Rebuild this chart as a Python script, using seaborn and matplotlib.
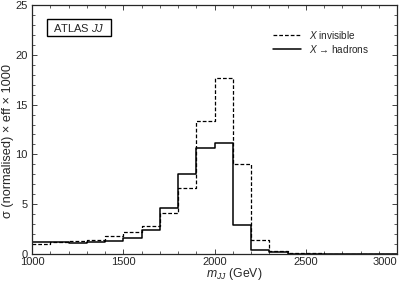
import pandas as pd
import matplotlib.pyplot as plt
import seaborn as sns
from matplotlib.patches import Rectangle
from matplotlib.ticker import MultipleLocator

sns.set_style("ticks")
plt.rcParams['font.family'] = ['Liberation Sans', 'DejaVu Sans']
plt.rcParams['mathtext.fontset'] = 'custom'
plt.rcParams['mathtext.it'] = 'Liberation Sans:italic'
plt.rcParams['mathtext.rm'] = 'Liberation Sans'

# bin edges in m_JJ (GeV)
edges = list(range(1000, 3001, 100))
centres = [e + 50 for e in edges[:-1]]
xticks = [1000, 1500, 2000, 2500, 3000]

# X invisible (dashed)
invisible = [1.04, 1.17, 1.30, 1.44, 1.80, 2.20, 2.85, 4.10, 6.60, 13.4,
             17.7, 9.0, 1.44, 0.30, 0.10, 0.05, 0.0, 0.0, 0.0, 0.0]
# X -> hadrons (solid)
hadrons = [1.17, 1.24, 1.07, 1.20, 1.30, 1.60, 2.44, 4.60, 8.00, 10.6,
           11.1, 2.9, 0.43, 0.15, 0.03, 0.0, 0.0, 0.0, 0.0, 0.0]

df = pd.DataFrame({"m": centres, "inv": invisible, "had": hadrons})

dash = (0, (3, 1.6))

fig = plt.figure(figsize=(4, 2.84), dpi=100)
ax = fig.add_axes([0.08, 0.106, 0.9125, 0.876])

sns.histplot(data=df, x="m", weights="inv", bins=edges, element="step",
             fill=False, color="black", linestyle=dash, linewidth=0.9, ax=ax)
sns.histplot(data=df, x="m", weights="had", bins=edges, element="step",
             fill=False, color="black", linewidth=1.1, ax=ax)

ax.set_xlim(1000, 3000)
ax.set_ylim(0, 25)
ax.set_xticks(xticks)
ax.xaxis.set_minor_locator(MultipleLocator(100))
ax.yaxis.set_major_locator(MultipleLocator(5))
ax.yaxis.set_minor_locator(MultipleLocator(1))
ax.tick_params(which='both', direction='in', top=True, right=True,
               labelsize=8, color="#444444")
ax.tick_params(axis='x', pad=2)
ax.tick_params(axis='y', pad=3)
ax.tick_params(which='major', length=3.6, width=0.7)
ax.tick_params(which='minor', length=2.2, width=0.6)
for s in ax.spines.values():
    s.set_linewidth(0.9)

# last x tick label sits inside the figure edge, as in the original
ax.xaxis.get_major_ticks()[-1].label1.set_horizontalalignment("right")

ax.set_xlabel(r"$m_{JJ}$ (GeV)", fontsize=8.8)
ax.set_ylabel("\u03c3 (normalised) \u00d7 eff \u00d7 1000", fontsize=9.2)
ax.xaxis.set_label_coords(0.555, -0.05)
ax.yaxis.set_label_coords(-0.05, 0.455)

# legend drawn by hand like the original
ax.plot([2321, 2474], [22.0, 22.0], color="black", linestyle=dash, linewidth=0.9)
ax.plot([2321, 2474], [20.6, 20.6], color="black", linewidth=1.1)
ax.text(2518, 22.0, r"$X$ invisible", fontsize=7.2, va="center")
ax.text(2518, 20.6, "$X$ \u2192 hadrons", fontsize=7.2, va="center")

# ATLAS JJ label box
ax.add_patch(Rectangle((1080, 21.9), 352, 1.7, fill=False, ec="black", lw=1.0))
ax.text(1256, 22.72, r"ATLAS $JJ$", fontsize=8, va="center", ha="center")

fig.savefig("out.png", dpi=100)
